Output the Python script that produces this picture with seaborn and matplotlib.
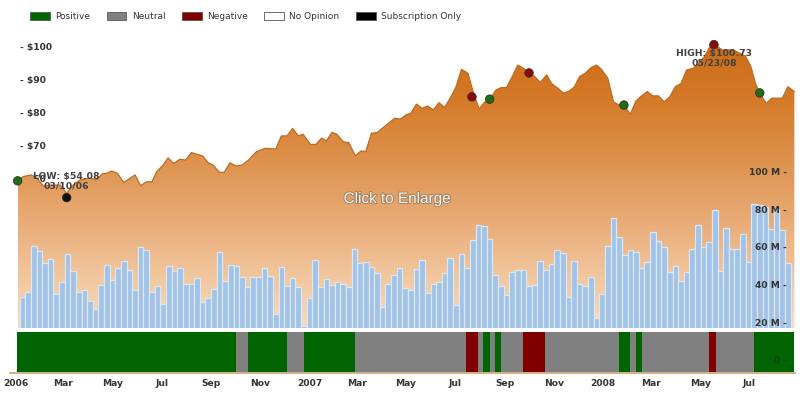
import numpy as np
import pandas as pd
import matplotlib
matplotlib.use("Agg")
import matplotlib.pyplot as plt
import matplotlib.dates as mdates
import matplotlib.transforms as mtrans
import matplotlib.patheffects as pe
from matplotlib.colors import LinearSegmentedColormap
from matplotlib.patches import Patch
import seaborn as sns

# ---------------- data ----------------
base_date = pd.Timestamp("2006-01-01")

price_days = [7, 14, 24, 31, 39, 47, 60, 68, 76, 85,
              97, 105, 112, 118, 124, 131, 139, 147, 153, 160,
              167, 174, 180, 188, 194, 201, 209, 216, 223, 230,
              237, 244, 250, 258, 264, 271, 279, 286, 294, 304,
              315, 328, 335, 342, 349, 356, 362, 371, 378, 385,
              391, 398, 404, 412, 419, 427, 434, 440, 447, 454,
              462, 469, 476, 483, 490, 496, 503, 510, 517, 524,
              531, 538, 545, 552, 559, 567, 574, 581, 587, 594,
              602, 608, 615, 622, 629, 636, 643, 650, 657, 665,
              671, 679, 686, 693, 699, 706, 713, 720, 727, 733,
              741, 748, 755, 762, 769, 776, 783, 790, 797, 804,
              811, 818, 825, 832, 839, 847, 854, 861, 868, 875,
              883, 890, 897, 905, 912, 919, 925, 930, 938, 945,
              951, 958, 965, 973]
prices = [59.2, 60.5, 61.0, 60.0, 57.6, 57.9, 57.9, 55.4, 57.9, 59.5,
          60.0, 59.5, 61.3, 61.5, 62.2, 61.5, 58.7, 60.0, 61.0, 57.7,
          58.9, 58.9, 62.0, 64.0, 66.2, 64.5, 65.8, 65.5, 67.8, 67.3,
          66.8, 64.7, 64.0, 61.8, 61.8, 64.7, 63.7, 64.0, 65.5, 68.1,
          69.1, 68.9, 72.9, 72.9, 75.2, 72.9, 73.4, 70.3, 70.3, 72.2,
          71.4, 74.0, 73.4, 71.1, 70.8, 66.8, 68.3, 68.1, 73.7, 73.9,
          75.5, 76.9, 78.3, 78.0, 79.3, 79.8, 82.6, 81.3, 82.0, 80.8,
          83.0, 81.6, 84.4, 87.7, 93.2, 92.0, 85.9, 81.1, 83.0, 84.1,
          86.9, 87.6, 87.6, 90.9, 94.5, 93.5, 92.2, 91.0, 89.2, 91.5,
          88.9, 87.4, 85.9, 86.6, 87.7, 91.0, 92.0, 93.7, 94.5, 93.2,
          90.5, 83.3, 82.3, 82.1, 79.5, 83.5, 85.1, 86.4, 85.1, 85.1,
          83.3, 84.8, 87.9, 88.9, 93.0, 93.5, 95.0, 97.0, 100.1, 100.6,
          99.1, 99.1, 99.1, 98.1, 97.3, 94.0, 88.6, 85.9, 82.8, 84.4,
          84.4, 84.4, 87.9, 86.4]

volume_start = "2006-01-14"   # weekly bars
volumes_m = [33.3, 36.2, 60.5, 57.8, 51.3, 53.4, 34.8, 41.2, 56.2, 47.0,
             35.9, 37.0, 31.1, 26.9, 39.6, 50.4, 42.3, 48.8, 52.5, 47.7,
             37.0, 59.8, 58.2, 36.2, 39.4, 29.7, 49.7, 47.0, 49.0, 40.5,
             40.5, 43.3, 30.9, 32.7, 37.5, 57.1, 41.7, 50.6, 50.0, 44.0,
             38.6, 44.2, 44.2, 48.6, 44.7, 24.6, 49.5, 39.4, 43.3, 38.9,
             18.2, 32.7, 52.9, 38.9, 42.8, 40.0, 41.6, 40.3, 38.6, 58.7,
             51.3, 51.8, 49.5, 46.0, 28.3, 40.5, 45.3, 48.6, 38.4, 37.3,
             48.1, 52.9, 35.7, 40.5, 41.2, 46.3, 53.9, 29.3, 56.1, 48.6,
             63.5, 71.4, 70.9, 64.0, 45.3, 39.4, 34.5, 46.9, 47.9, 47.6,
             39.4, 40.0, 52.3, 47.6, 50.8, 58.2, 56.6, 33.6, 52.7, 40.5,
             39.4, 43.9, 22.1, 35.2, 60.3, 75.2, 65.1, 55.9, 58.2, 57.1,
             48.6, 52.0, 67.7, 62.9, 59.8, 46.9, 49.7, 41.7, 46.5, 58.9,
             71.4, 59.8, 62.6, 79.4, 47.0, 69.8, 58.7, 58.7, 66.7, 51.8,
             82.6, 82.0, 81.0, 69.3, 79.9, 69.0, 51.3]

opinion_start = ["2006-01-07", "2006-10-07", "2006-10-21", "2006-12-09", "2006-12-30",
                 "2007-03-03", "2007-07-20", "2007-08-04", "2007-08-10", "2007-08-18",
                 "2007-08-25", "2007-09-01", "2007-09-29", "2007-10-26", "2008-01-26",
                 "2008-02-09", "2008-02-16", "2008-02-23", "2008-05-17", "2008-05-25",
                 "2008-07-12"]
opinion_end_last = "2008-08-31"
opinion_cat = ["Positive", "Neutral", "Positive", "Neutral", "Positive",
               "Neutral", "Negative", "Neutral", "Positive", "Neutral",
               "Positive", "Neutral", "Negative", "Neutral", "Positive",
               "Neutral", "Positive", "Neutral", "Negative", "Neutral",
               "Positive"]

marker_days = [7, 68, 572, 594, 643, 761, 873, 930]
marker_prices = [59.2, 54.08, 84.8, 84.1, 92.1, 82.3, 100.73, 86.0]
marker_kind = ["Positive", "Low", "Negative", "Positive", "Negative",
               "Positive", "Negative", "Positive"]

low_date, low_price = "2006-03-10", 54.08
high_date, high_price = "2008-05-23", 100.73

legend_labels = ["Positive", "Neutral", "Negative", "No Opinion", "Subscription Only"]
legend_colors = ["#006400", "#808080", "#800000", "#ffffff", "#000000"]

price_ticks = [50, 60, 70, 80, 90, 100]
volume_ticks = [20, 40, 60, 80, 100]

# ---------------- style ----------------
sns.set_theme(style="white")
plt.rcParams["font.family"] = ["DejaVu Sans"]

W, H = 800, 400
fig = plt.figure(figsize=(8, 4), dpi=100)
fig.patch.set_facecolor("white")

def fx(px):
    return px / W

def fy(py):
    return 1 - py / H

LEFT, RIGHT = 10, 795
ax = fig.add_axes([fx(LEFT), fy(328), fx(RIGHT) - fx(LEFT), fy(30) - fy(328)])
ax.patch.set_alpha(0)
axo = fig.add_axes([fx(LEFT), fy(373), fx(RIGHT) - fx(LEFT), fy(332) - fy(373)], sharex=ax)

x_lo = mdates.date2num(base_date - pd.Timedelta(days=2.5))
x_hi = mdates.date2num(base_date + pd.Timedelta(days=973.8))
P_LO, P_HI = 14.33, 105.18
V_LO, V_HI = 17.0, 175.1

# ---------------- price area with gradient ----------------
pdates = base_date + pd.to_timedelta(price_days, unit="D")
px_num = mdates.date2num(pdates)
pr = np.array(prices)

poly = ax.fill_between(px_num, pr, P_LO, facecolor="none", edgecolor="none")
top = pr.max()
stops_price = [P_LO, 29, 44, 59.5, 70, 84, top]
stops_col = ["#f7dbbd", "#f2c8a0", "#eab07e", "#e09a5a", "#db8c44", "#d47a28", "#cd6c18"]
cmap = LinearSegmentedColormap.from_list(
    "grad", [((p - P_LO) / (top - P_LO), c) for p, c in zip(stops_price, stops_col)])
grad = np.linspace(0, 1, 256).reshape(-1, 1)
im = ax.imshow(grad, extent=[px_num.min(), px_num.max(), P_LO, top], origin="lower",
               aspect="auto", cmap=cmap, zorder=1, interpolation="bilinear")
im.set_clip_path(poly.get_paths()[0], transform=ax.transData)
sns.lineplot(x=px_num, y=pr, ax=ax, color="#c06a20", lw=0.9, zorder=2, sort=False)

# ---------------- volume bars ----------------
axv = ax.twinx()
vdates = pd.date_range(volume_start, periods=len(volumes_m), freq="7D")
vx_num = mdates.date2num(vdates)
sns.barplot(x=vx_num, y=volumes_m, native_scale=True, ax=axv, color="#a2c2e6",
            saturation=1, width=1.0, edgecolor="#d9e8f6", linewidth=0.9, errorbar=None,
            zorder=2)
axv.set_ylim(V_LO, V_HI)

# ---------------- markers & annotations ----------------
mdates_num = mdates.date2num(base_date + pd.to_timedelta(marker_days, unit="D"))
sns.scatterplot(x=mdates_num, y=marker_prices, hue=marker_kind, ax=axv,
                palette={"Positive": "#1d6e12", "Negative": "#8a0a0a", "Low": "#111111"},
                s=38, edgecolor="#2a2a2a", linewidth=0.5, legend=False, zorder=6,
                transform=ax.transData, clip_on=False)

ann_kw = dict(ha="center", fontsize=6.7, color="#404040", fontweight="bold",
              textcoords="offset points", linespacing=1.05, zorder=7)
ld = pd.Timestamp(low_date)
axv.annotate(f"LOW: ${low_price:.2f}\n{ld:%m/%d/%y}",
             xy=(mdates.date2num(ld), low_price), xycoords=ax.transData,
             xytext=(0, 5), va="bottom", **ann_kw)
hd = pd.Timestamp(high_date)
axv.annotate(f"HIGH: ${high_price:.2f}\n{hd:%m/%d/%y}",
             xy=(mdates.date2num(hd), high_price), xycoords=ax.transData,
             xytext=(0, -3.5), va="top", **ann_kw)

fig.text(fx(397), fy(199), "Click to Enlarge", ha="center", va="center",
         family="Liberation Sans", fontsize=11, color="#f6f6f6",
         path_effects=[pe.withStroke(linewidth=1.3, foreground="#a08060")])

# ---------------- axes styling ----------------
ax.set_xlim(x_lo, x_hi)
ax.set_ylim(P_LO, P_HI)
for a in (ax, axv):
    for s in a.spines.values():
        s.set_visible(False)
    a.set_xlabel("")
    a.set_ylabel("")
    a.grid(False)
ax.tick_params(axis="x", bottom=False, labelbottom=False)
axv.tick_params(axis="x", bottom=False, labelbottom=False)

ax.set_yticks(price_ticks)
ax.set_yticklabels([f"- ${v}" for v in price_ticks])
ax.tick_params(axis="y", length=0, pad=-7.2, labelsize=6.6, labelcolor="#333333")
for lbl in ax.get_yticklabels():
    lbl.set_ha("left")
    lbl.set_fontweight("bold")

axv.set_yticks(volume_ticks)
axv.set_yticklabels([f"{v} M -" for v in volume_ticks])
axv.tick_params(axis="y", length=0, pad=-5.8, labelsize=6.6, labelcolor="#333333",
                left=False, labelleft=False, right=False, labelright=True)
for lbl in axv.get_yticklabels():
    lbl.set_ha("right")
    lbl.set_fontweight("bold")
axv.yaxis.set_zorder(20)

# ---------------- opinion strip ----------------
opinion_colors = dict(zip(legend_labels, legend_colors))
o_starts = pd.to_datetime(opinion_start)
o_ends = list(o_starts[1:]) + [pd.Timestamp(opinion_end_last)]
for s_, e_, c_ in zip(o_starts, o_ends, opinion_cat):
    s_n = mdates.date2num(s_)
    e_n = mdates.date2num(e_)
    axo.broken_barh([(s_n, e_n - s_n)], (0, 1), facecolors=opinion_colors[c_], edgecolor="none")
axo.set_ylim(-0.025, 1)
axo.set_xlim(x_lo, x_hi)
axo.set_facecolor("white")
for k, s in axo.spines.items():
    s.set_visible(k == "bottom")
axo.spines["bottom"].set_color("#c9a470")
axo.spines["bottom"].set_linewidth(1.2)
axo.set_yticks([])

axv.text(1 - 8 / (RIGHT - LEFT), 0, "0 -", ha="right", va="center", fontsize=6.6,
         fontweight="bold", color="#222222", alpha=0.45, clip_on=False, zorder=10,
         transform=mtrans.blended_transform_factory(axv.transAxes, axv.transData))

tick_dates = pd.date_range("2006-01-01", "2008-07-01", freq="2MS")
axo.set_xticks(mdates.date2num(tick_dates))
axo.set_xticklabels([str(d.year) if d.month == 1 else d.strftime("%b") for d in tick_dates])
axo.tick_params(axis="x", which="major", length=0, pad=4.6, labelsize=6.6, labelcolor="#333333")
mark_dates = pd.date_range("2006-01-01", "2008-07-01", freq="6MS")
axo.set_xticks(mdates.date2num(mark_dates), minor=True)
axo.tick_params(axis="x", which="minor", length=3, width=1, color="#555555", direction="out")
shift = mtrans.ScaledTranslation(4 / 100, 0, fig.dpi_scale_trans)
for lbl in axo.get_xticklabels():
    lbl.set_fontweight("bold")
    lbl.set_transform(lbl.get_transform() + shift)

# ---------------- legend ----------------
handles = [Patch(facecolor=c, edgecolor="#555555", linewidth=0.6, label=l)
           for l, c in zip(legend_labels, legend_colors)]
fig.legend(handles=handles, ncol=5, loc="upper left", bbox_to_anchor=(fx(30), fy(12)),
           frameon=False, fontsize=6.5, handlelength=2.2, handleheight=1.0,
           handletextpad=0.6, columnspacing=1.8, borderaxespad=0, borderpad=0,
           labelcolor="#333333")

fig.savefig("out.png", dpi=100, facecolor="white")
